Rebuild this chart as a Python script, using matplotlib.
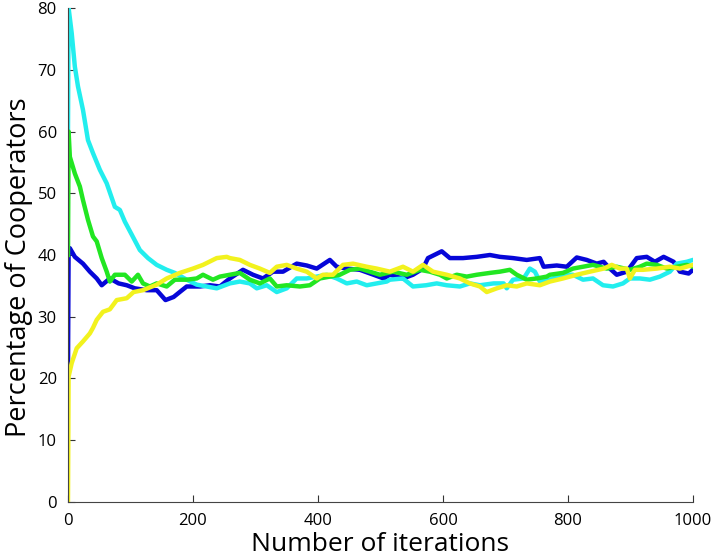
import numpy as np
import matplotlib
matplotlib.use("Agg")
import matplotlib.pyplot as plt

# values (iteration, percentage)
blue_x = [0, 1, 3, 11, 24, 35, 46, 54, 67, 81, 94, 107, 126, 142, 156, 169, 180, 190, 211, 227,
          243, 259, 280, 296, 312, 328, 344, 366, 382, 398, 419, 430, 446, 467, 489, 505,
          515, 536, 552, 568, 576, 598, 611, 632, 654, 675, 691, 712, 734, 755, 761, 782,
          798, 814, 830, 846, 857, 867, 878, 894, 910, 926, 939, 953, 969, 979, 993, 1000]
blue_y = [21, 41, 41.1, 39.7, 38.6, 37.3, 36.2, 35.1, 36.2, 35.4, 35.1, 34.6, 34.3, 34.3, 32.7, 33.2, 34.1, 34.9, 34.9, 35.1,
          34.9, 36.2, 37.6, 36.8, 36.2, 37.3, 37.3, 38.6, 38.3, 37.8, 39.2, 38.1, 37.8, 37.6, 36.8, 36.2,
          36.8, 36.2, 36.8, 37.8, 39.5, 40.6, 39.5, 39.5, 39.7, 40.0, 39.7, 39.5, 39.2, 39.5, 38.1, 38.3,
          38.1, 39.6, 39.2, 38.6, 38.9, 37.8, 36.8, 37.3, 39.5, 39.7, 38.9, 39.7, 38.9, 37.3, 37.0, 37.6]

cyan_x = [0, 1, 6, 11, 16, 24, 32, 40, 51, 62, 75, 83, 91, 102, 115, 128, 142, 158, 171, 190, 206, 222, 238,
          259, 275, 291, 302, 318, 334, 350, 366, 382, 398, 414, 430, 446, 462, 478, 494, 510,
          515, 536, 552, 573, 590, 606, 627, 643, 659, 681, 697, 702, 712, 729, 739, 747, 755, 771,
          776, 792, 808, 824, 840, 856, 872, 888, 899, 915, 931, 947, 963, 974, 990, 1000]
cyan_y = [60, 80, 75.9, 70.5, 67.3, 63.5, 58.6, 56.5, 53.8, 51.6, 47.8, 47.3, 45.4, 43.3, 40.8, 39.5, 38.4, 37.6, 37.1, 36.0, 35.2, 34.9, 34.6,
          35.4, 35.7, 35.4, 34.6, 35.1, 34.0, 34.6, 36.2, 36.2, 36.5, 36.8, 36.2, 35.4, 35.7, 35.1, 35.4, 35.7,
          36.0, 36.2, 34.9, 35.1, 35.4, 35.1, 34.9, 35.4, 35.1, 35.4, 35.4, 34.6, 36.0, 36.2, 37.8, 37.3, 35.7, 36.0,
          36.2, 36.8, 36.8, 36.0, 36.2, 35.1, 34.9, 35.4, 36.2, 36.2, 36.0, 36.5, 37.3, 38.6, 38.9, 39.2]

green_x = [0, 1, 3, 11, 19, 24, 32, 40, 46, 54, 62, 67, 75, 91, 102, 112, 120, 131, 142, 158, 171, 190, 206, 216, 232,
           243, 259, 275, 291, 307, 323, 334, 350, 371, 387, 403, 419, 435, 451, 467, 483, 499,
           520, 542, 563, 579, 595, 606, 622, 638, 654, 675, 691, 707, 718, 734, 750, 766,
           771, 792, 808, 824, 840, 862, 878, 899, 915, 926, 942, 958, 974, 990, 1000]
green_y = [40, 60, 55.9, 53.2, 51.1, 48.9, 45.7, 43.0, 42.2, 39.5, 37.3, 35.7, 36.8, 36.8, 35.7, 36.8, 35.4, 34.9, 35.4, 34.9, 36.0, 36.0, 36.2, 36.8, 36.0,
           36.5, 36.8, 37.1, 36.0, 35.4, 36.2, 34.9, 35.1, 34.9, 35.1, 36.2, 36.5, 36.8, 37.6, 37.8, 37.3, 36.8,
           37.3, 36.8, 37.6, 37.3, 36.8, 36.2, 36.8, 36.5, 36.8, 37.1, 37.3, 37.6, 36.8, 36.0, 36.2, 36.5,
           36.8, 37.1, 37.8, 38.1, 38.4, 37.8, 38.1, 37.6, 38.1, 38.6, 38.4, 37.8, 38.1, 38.4, 38.1]

yellow_x = [0, 1, 6, 14, 24, 35, 40, 46, 56, 67, 78, 94, 105, 120, 142, 158, 179, 200, 216, 238, 254,
            259, 275, 291, 307, 323, 334, 350, 366, 382, 398, 408, 424, 440, 456, 478, 494,
            515, 536, 552, 568, 584, 606, 627, 643, 659, 670, 686, 702, 718, 734, 755,
            771, 792, 814, 835, 857, 870, 883, 894, 899, 907, 920, 942, 963, 979, 1000]
yellow_y = [0, 20.3, 22.5, 24.9, 26.0, 27.3, 28.2, 29.5, 30.8, 31.2, 32.7, 33.0, 34.0, 34.3, 35.2, 36.2, 37.1, 37.8, 38.4, 39.5, 39.7,
            39.5, 39.2, 38.4, 37.8, 37.1, 38.1, 38.4, 37.8, 37.3, 36.2, 36.8, 36.8, 38.4, 38.6, 38.1, 37.8,
            37.3, 38.1, 37.3, 38.4, 37.3, 36.8, 36.2, 35.4, 34.9, 34.0, 34.6, 35.1, 34.9, 35.4, 35.1,
            35.7, 36.2, 36.8, 37.3, 37.8, 38.4, 37.8, 37.8, 36.2, 37.6, 37.6, 37.8, 38.1, 37.8, 38.4]

xticks = [0, 200, 400, 600, 800, 1000]
yticks = [0, 10, 20, 30, 40, 50, 60, 70, 80]

plt.rcParams['font.family'] = ['Open Sans', 'DejaVu Sans']

fig = plt.figure(figsize=(7.14, 5.6), dpi=100)
ax = fig.add_axes([0.0952, 0.1036, 0.8754, 0.8821])

ax.plot(blue_x, blue_y, color='#0606d8', lw=3.2)
ax.plot(cyan_x, cyan_y, color='#22eeee', lw=3.2)
ax.plot(green_x, green_y, color='#22e622', lw=3.2)
ax.plot(yellow_x, yellow_y, color='#f2f21e', lw=3.2)

ax.set_xlim(0, 1000)
ax.set_ylim(0, 80)
ax.set_xticks(xticks)
ax.set_yticks(yticks)
ax.tick_params(direction='in', length=5, labelsize=12, color='#333333', pad=8)
ax.spines['top'].set_visible(False)
ax.spines['right'].set_visible(False)
for s in ['left', 'bottom']:
    ax.spines[s].set_color('#444444')

# x label sits right at the bottom edge like the original
ax.set_xlabel('Number of iterations', fontsize=19)
ax.xaxis.set_label_coords(0.5, -0.1)
ax.xaxis.label.set_va('baseline')
ax.set_ylabel('Percentage of Cooperators', fontsize=19.5)
ax.yaxis.set_label_coords(-0.078, 0.476)
ax.yaxis.label.set_va('center')

fig.savefig('out.png', dpi=100)
